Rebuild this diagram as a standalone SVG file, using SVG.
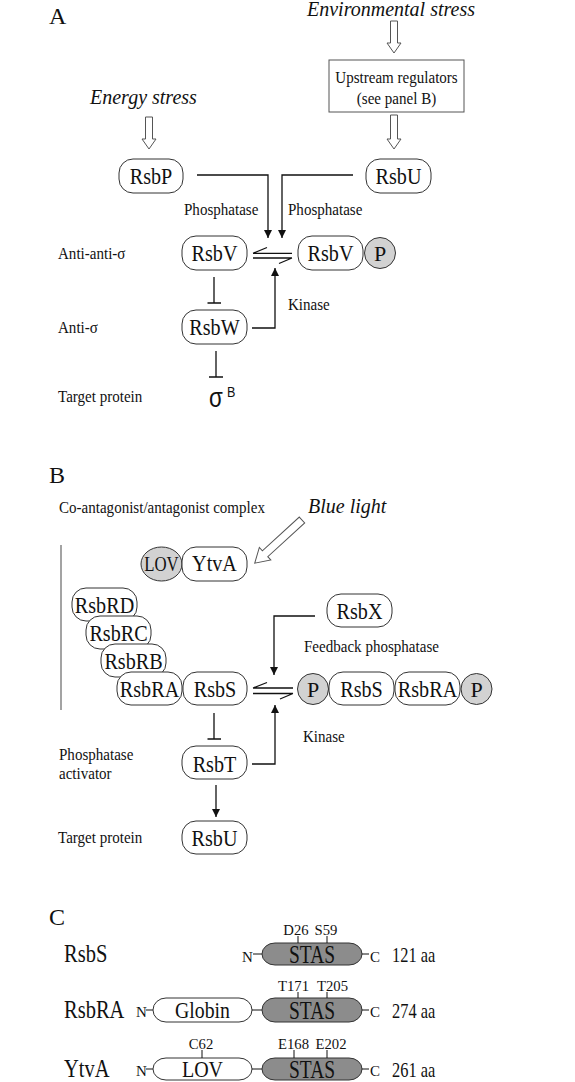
<svg xmlns="http://www.w3.org/2000/svg" width="575" height="1082" viewBox="0 0 575 1082">
<defs>
<style>
text{font-family:"Liberation Serif","Times New Roman",serif;fill:#111}
.lbl{font-size:17.5px}
.nd{font-size:24px;text-anchor:middle}
.it{font-size:20px;font-style:italic}
.pan{font-size:24px}
.box{fill:#fff;stroke:#333;stroke-width:1}
.gc{fill:#d2d2d2;stroke:#333;stroke-width:1}
.ln{fill:none;stroke:#111;stroke-width:1.3}
.ha{fill:#fff;stroke:#555;stroke-width:1}
.stas{fill:#8c8c8c;stroke:#333;stroke-width:1}
.sm{font-size:14.7px;text-anchor:middle}
.nc{font-size:15px}
.dl{font-size:25px}
.dn{font-size:23px;text-anchor:middle}
.st{font-size:25px;text-anchor:middle}
.aa{font-size:20px}
.c{text-anchor:middle}
.tk{stroke:#111;stroke-width:1}
</style>
<marker id="ah" viewBox="0 0 10 10" refX="10" refY="5" markerWidth="8" markerHeight="8" markerUnits="userSpaceOnUse" orient="auto">
<path d="M0,0 L10,5 L0,10 z" fill="#111"/>
</marker>
</defs>

<!-- Panel A -->
<g id="panelA-labels">
<text class="pan" x="49" y="24">A</text>
<text class="it" x="307" y="16">Environmental stress</text>
<text class="it" x="90" y="104">Energy stress</text>
<text class="lbl" transform="translate(184,215) scale(0.86,1)">Phosphatase</text>
<text class="lbl" transform="translate(288,215) scale(0.86,1)">Phosphatase</text>
<text class="lbl" transform="translate(58,259) scale(0.86,1)">Anti-anti-σ</text>
<text class="lbl" transform="translate(288,310) scale(0.86,1)">Kinase</text>
<text class="lbl" transform="translate(58,333) scale(0.86,1)">Anti-σ</text>
<text class="lbl" transform="translate(58,402) scale(0.86,1)">Target protein</text>
</g>
<g id="upstream">
<rect x="329" y="60" width="135" height="52" fill="#fff" stroke="#555"/>
<text class="lbl c" transform="translate(396.5,83) scale(0.86,1)">Upstream regulators</text>
<text class="lbl c" transform="translate(396.5,104) scale(0.86,1)">(see panel B)</text>
</g>
<g id="rsbP"><rect class="box" x="119" y="159" width="64" height="34" rx="14"/><text class="nd" transform="translate(151,184) scale(0.84,1)">RsbP</text></g>
<g id="rsbU"><rect class="box" x="366" y="159" width="65" height="34" rx="14"/><text class="nd" transform="translate(398.5,184) scale(0.84,1)">RsbU</text></g>
<g id="rsbV"><rect class="box" x="182" y="236" width="65" height="34" rx="14"/><text class="nd" transform="translate(214.5,261) scale(0.84,1)">RsbV</text></g>
<g id="rsbVP"><rect class="box" x="298" y="236" width="65" height="34" rx="14"/><text class="nd" transform="translate(330.5,261) scale(0.84,1)">RsbV</text>
<circle class="gc" cx="380" cy="253" r="15.5"/><text class="c" x="380" y="260.5" style="font-size:22px">P</text></g>
<g id="rsbW"><rect class="box" x="182" y="310" width="65" height="34" rx="14"/><text class="nd" transform="translate(214.5,335) scale(0.84,1)">RsbW</text></g>
<g id="sigmaB"><text transform="translate(209,407) scale(0.8,1)" style="font-family:'Liberation Sans',Arial,sans-serif;font-size:28px">σ</text>
<text transform="translate(227,397) scale(0.9,1)" style="font-family:'Liberation Sans',Arial,sans-serif;font-size:14px">B</text></g>

<g id="connectorsA">
<path class="ha" d="M390.5,21 H397.5 V43 H401 L394,53 L387,43 H390.5 Z"/>
<path class="ha" d="M390.5,115 H397.5 V139 H401 L394,149 L387,139 H390.5 Z"/>
<path class="ha" d="M145.5,117 H152.5 V139 H156 L149,149 L142,139 H145.5 Z"/>
<path class="ln" d="M197,175 H268 V238" marker-end="url(#ah)"/>
<path class="ln" d="M353,175 H282 V238" marker-end="url(#ah)"/>
<path class="ln" d="M253,253.3 H292 M253,253.3 L267,247.5 M253,258 H292 M292,258 L279,263.5"/>
<path class="ln" d="M214,277 V303 M207.5,303 H221"/>
<path class="ln" d="M252,328 H275 V268" marker-end="url(#ah)"/>
<path class="ln" d="M216,351 V377 M209,377 H223"/>
</g>

<!-- Panel B -->
<g id="panelB-labels">
<text class="pan" x="49" y="483">B</text>
<text class="lbl" transform="translate(59,513) scale(0.86,1)">Co-antagonist/antagonist complex</text>
<text class="it" x="308" y="513">Blue light</text>
<text class="lbl" transform="translate(304,652) scale(0.86,1)">Feedback phosphatase</text>
<text class="lbl" transform="translate(303,742) scale(0.86,1)">Kinase</text>
<text class="lbl" transform="translate(59,760) scale(0.86,1)">Phosphatase</text>
<text class="lbl" transform="translate(59,779) scale(0.86,1)">activator</text>
<text class="lbl" transform="translate(58,843) scale(0.86,1)">Target protein</text>
</g>
<g id="ytvA"><ellipse class="gc" cx="161.5" cy="564" rx="20.5" ry="17"/><text class="c" transform="translate(161.5,570.5) scale(0.8,1)" style="font-size:21px">LOV</text>
<rect class="box" x="182" y="547" width="65" height="34" rx="14"/><text class="nd" transform="translate(214.5,571) scale(0.84,1)">YtvA</text></g>
<g id="rsbRD"><rect class="box" x="72" y="588" width="65" height="33" rx="14"/><text class="nd" transform="translate(104.5,613) scale(0.84,1)">RsbRD</text></g>
<g id="rsbRC"><rect class="box" x="86" y="616" width="65" height="33" rx="14"/><text class="nd" transform="translate(118.5,641) scale(0.84,1)">RsbRC</text></g>
<g id="rsbRB"><rect class="box" x="101" y="644" width="65" height="33" rx="14"/><text class="nd" transform="translate(133.5,669) scale(0.84,1)">RsbRB</text></g>
<g id="rsbRA"><rect class="box" x="117" y="672" width="65" height="33" rx="14"/><text class="nd" transform="translate(149.5,697) scale(0.84,1)">RsbRA</text></g>
<g id="rsbS"><rect class="box" x="183" y="672" width="64" height="33" rx="14"/><text class="nd" transform="translate(215,697) scale(0.84,1)">RsbS</text></g>
<g id="phosphoComplex">
<circle class="gc" cx="313" cy="689" r="15.5"/><text class="c" x="313" y="696.5" style="font-size:22px">P</text>
<rect class="box" x="329" y="672" width="65" height="33" rx="14"/><text class="nd" transform="translate(361.5,697) scale(0.84,1)">RsbS</text>
<rect class="box" x="395" y="672" width="65" height="33" rx="14"/><text class="nd" transform="translate(427.5,697) scale(0.84,1)">RsbRA</text>
<circle class="gc" cx="476.5" cy="689" r="15.5"/><text class="c" x="476.5" y="696.5" style="font-size:22px">P</text>
</g>
<g id="rsbX"><rect class="box" x="327" y="594" width="65" height="33" rx="14"/><text class="nd" transform="translate(359.5,619) scale(0.84,1)">RsbX</text></g>
<g id="rsbT"><rect class="box" x="182" y="746" width="65" height="33" rx="14"/><text class="nd" transform="translate(214.5,771.5) scale(0.84,1)">RsbT</text></g>
<g id="rsbU2"><rect class="box" x="182" y="821" width="65" height="33" rx="14"/><text class="nd" transform="translate(214.5,845.5) scale(0.84,1)">RsbU</text></g>

<g id="connectorsB">
<path class="ha" transform="translate(302,520) rotate(47.6)" d="M-4,0 H4 V50 H8.5 L0,64 L-8.5,50 H-4 Z"/>
<line x1="61" y1="545" x2="61" y2="710" stroke="#666" stroke-width="1.2"/>
<path class="ln" d="M253,688 H293 M253,688 L267,682.5 M253,693.5 H293 M293,693.5 L280,699"/>
<path class="ln" d="M315,616 H274 V675" marker-end="url(#ah)"/>
<path class="ln" d="M214,713 V739 M207.5,739 H221"/>
<path class="ln" d="M252,764 H275 V705" marker-end="url(#ah)"/>
<path class="ln" d="M216,785 V817" marker-end="url(#ah)"/>
</g>

<!-- Panel C -->
<g id="panelC-labels">
<text class="pan" x="49" y="925">C</text>
</g>
<g id="domRsbS">
<text class="dl" transform="translate(64,962) scale(0.82,1)">RsbS</text>
<text class="nc" x="242" y="962">N</text>
<line class="tk" x1="253" y1="954" x2="262" y2="954"/>
<rect class="stas" x="262" y="943" width="100" height="22" rx="13" ry="11"/>
<text class="st" transform="translate(312,963) scale(0.78,1)">STAS</text>
<line class="tk" x1="362" y1="954" x2="369" y2="954"/>
<text class="nc" x="370" y="962">C</text>
<text class="aa" transform="translate(392,962) scale(0.82,1)">121 aa</text>
<text class="sm" x="296" y="935">D26</text><line class="tk" x1="298" y1="936" x2="298" y2="943"/>
<text class="sm" x="326" y="935">S59</text><line class="tk" x1="327" y1="936" x2="327" y2="943"/>
</g>
<g id="domRsbRA">
<text class="dl" transform="translate(64,1017.5) scale(0.82,1)">RsbRA</text>
<text class="nc" x="136" y="1017">N</text>
<line class="tk" x1="146" y1="1010" x2="153" y2="1010"/>
<rect class="box" x="153" y="998" width="99" height="24" rx="13" ry="12"/>
<text class="dn" transform="translate(202.5,1018) scale(0.86,1)">Globin</text>
<line class="tk" x1="252" y1="1010" x2="262" y2="1010"/>
<rect class="stas" x="262" y="998" width="100" height="24" rx="13" ry="12"/>
<text class="st" transform="translate(312,1018.5) scale(0.78,1)">STAS</text>
<line class="tk" x1="362" y1="1010" x2="369" y2="1010"/>
<text class="nc" x="370" y="1017">C</text>
<text class="aa" transform="translate(392,1017.5) scale(0.82,1)">274 aa</text>
<text class="sm" x="293.5" y="991">T171</text><line class="tk" x1="298" y1="992" x2="298" y2="998"/>
<text class="sm" x="332.5" y="991">T205</text><line class="tk" x1="327" y1="992" x2="327" y2="998"/>
</g>
<g id="domYtvA">
<text class="dl" transform="translate(64,1076.5) scale(0.82,1)">YtvA</text>
<text class="nc" x="136" y="1076">N</text>
<line class="tk" x1="146" y1="1069" x2="153" y2="1069"/>
<rect class="box" x="153" y="1058" width="99" height="22" rx="13" ry="11"/>
<text class="dn" transform="translate(202.5,1077) scale(0.87,1)">LOV</text>
<line class="tk" x1="252" y1="1069" x2="262" y2="1069"/>
<rect class="stas" x="262" y="1058" width="100" height="22" rx="13" ry="11"/>
<text class="st" transform="translate(312,1077.5) scale(0.78,1)">STAS</text>
<line class="tk" x1="362" y1="1069" x2="369" y2="1069"/>
<text class="nc" x="370" y="1076">C</text>
<text class="aa" transform="translate(392,1076.5) scale(0.82,1)">261 aa</text>
<text class="sm" x="201" y="1049">C62</text><line class="tk" x1="202" y1="1050" x2="202" y2="1058"/>
<text class="sm" x="293.5" y="1049">E168</text><line class="tk" x1="294" y1="1050" x2="294" y2="1058"/>
<text class="sm" x="331" y="1049">E202</text><line class="tk" x1="327" y1="1050" x2="327" y2="1058"/>
</g>
</svg>
